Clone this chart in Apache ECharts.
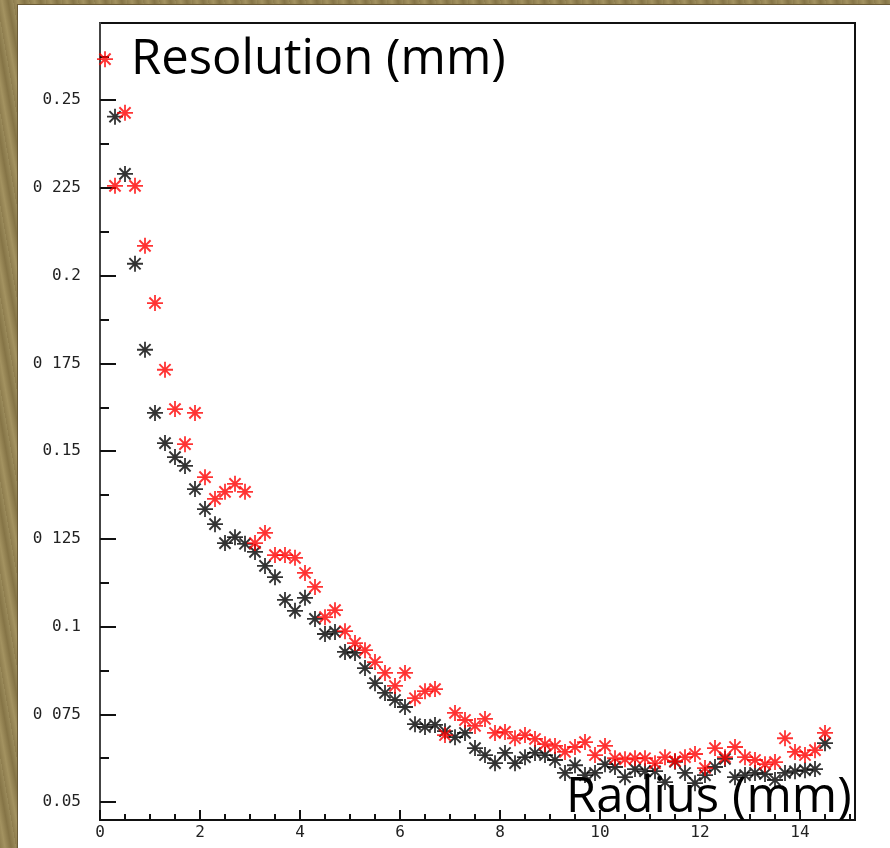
<!DOCTYPE html>
<html><head><meta charset="utf-8">
<script src="https://cdn.jsdelivr.net/npm/echarts@6/dist/echarts.min.js"></script>
<style>
html,body{margin:0;padding:0;width:890px;height:848px;overflow:hidden;}
body{background:repeating-linear-gradient(80deg,#8e7d4e 0px,#a39260 5px,#857446 11px,#9a8a5a 16px);}
#paper{position:absolute;left:17px;top:4px;right:0;bottom:0;background:#fff;border-left:1px solid #6a5a36;border-top:1px solid #6a5a36;}
#chart{position:absolute;left:0;top:0;width:890px;height:848px;}
</style></head><body><div id="paper"></div><div id="chart"></div>
<script>
const radius = [0.1,0.3,0.5,0.7,0.9,1.1,1.3,1.5,1.7,1.9,2.1,2.3,2.5,2.7,2.9,3.1,3.3,3.5,3.7,3.9,
  4.1,4.3,4.5,4.7,4.9,5.1,5.3,5.5,5.7,5.9,6.1,6.3,6.5,6.7,6.9,7.1,7.3,7.5,7.7,7.9,
  8.1,8.3,8.5,8.7,8.9,9.1,9.3,9.5,9.7,9.9,10.1,10.3,10.5,10.7,10.9,11.1,11.3,11.5,11.7,11.9,
  12.1,12.3,12.5,12.7,12.9,13.1,13.3,13.5,13.7,13.9,14.1,14.3,14.5];
const resBlack = [null,0.2453,0.2290,0.2034,0.1789,0.1609,0.1523,0.1483,0.1458,0.1392,0.1335,0.1292,0.1238,0.1255,0.1236,0.1213,0.1173,0.1141,0.1076,0.1045,
  0.1082,0.1022,0.0979,0.0985,0.0928,0.0925,0.0882,0.0839,0.0811,0.0791,0.0771,0.0722,0.0714,0.0720,0.0702,0.0685,0.0697,0.0654,0.0634,0.0611,
  0.0640,0.0611,0.0628,0.0640,0.0634,0.0620,0.0583,0.0605,0.0577,0.0583,0.0608,0.0600,0.0571,0.0594,0.0588,0.0588,0.0557,0.0615,0.0583,0.0554,
  0.0577,0.0600,0.0623,0.0571,0.0577,0.0583,0.0580,0.0563,0.0583,0.0588,0.0591,0.0594,0.0668];
const resRed = [0.2617,0.2256,0.2464,0.2256,0.2085,0.1922,0.1732,0.1620,0.1520,0.1609,0.1426,0.1364,0.1384,0.1407,0.1384,0.1238,0.1267,0.1204,0.1204,0.1196,
  0.1153,0.1113,0.1027,0.1047,0.0987,0.0953,0.0933,0.0899,0.0868,0.0831,0.0868,0.0796,0.0816,0.0822,0.0691,0.0754,0.0734,0.0717,0.0737,0.0697,
  0.0700,0.0682,0.0691,0.0680,0.0665,0.0660,0.0643,0.0657,0.0671,0.0634,0.0660,0.0625,0.0622,0.0625,0.0625,0.0611,0.0628,0.0617,0.0628,0.0637,
  0.0597,0.0654,0.0628,0.0657,0.0628,0.0620,0.0608,0.0614,0.0682,0.0643,0.0634,0.0648,0.0697];
const xMajorTicks = [0,2,4,6,8,10,12,14];
const xMajorLabels = ['0','2','4','6','8','10','12','14'];
const xMinorTicks = [0.5,1,1.5,2.5,3,3.5,4.5,5,5.5,6.5,7,7.5,8.5,9,9.5,10.5,11,11.5,12.5,13,13.5,14.5,15];
const yMajorTicks = [0.05,0.075,0.1,0.125,0.15,0.175,0.2,0.225,0.25];
const yMajorLabels = ['0.05','0 075','0.1','0 125','0.15','0 175','0.2','0 225','0.25'];
const yMinorTicks = [0.0625,0.0875,0.1125,0.1375,0.1625,0.1875,0.2125,0.2375,0.2625];
const yTitle = 'Resolution (mm)';
const xTitle = 'Radius (mm)';

const X_MIN = 0, X_MAX = 15.1, Y_MIN = 0.0449, Y_MAX = 0.272;
const STAR = 'path://M0,7.1L16,7.1L16,8.9L0,8.9Z M7.1,0L8.9,0L8.9,16L7.1,16Z M1.7,3.1L3.1,1.7L14.3,12.9L12.9,14.3Z M12.9,1.7L14.3,3.1L3.1,14.3L1.7,12.9Z M5.8,5.8L10.2,5.8L10.2,10.2L5.8,10.2Z';

function lookup(vals, labels, v){
  for (let i=0;i<vals.length;i++){ if (Math.abs(vals[i]-v) < 1e-9) return labels[i]; }
  return '';
}
const labelFont = {fontFamily:'DejaVu Sans Mono', fontSize:16, color:'#222'};
const titleFont = 'normal 49px "Open Sans"';

const chart = echarts.init(document.getElementById('chart'), null, {renderer:'canvas'});
chart.setOption({
  animation:false,
  grid:{left:100, top:23, right:35, bottom:28, show:true, borderColor:'#111', borderWidth:2, backgroundColor:'transparent', outerBoundsMode:'none'},
  xAxis:[
    {type:'value', position:'bottom', min:X_MIN, max:X_MAX, splitLine:{show:false},
     axisLine:{show:true, lineStyle:{color:'#111', width:2}},
     axisTick:{show:true, inside:true, length:10, customValues:xMajorTicks, lineStyle:{color:'#111', width:2}},
     axisLabel:Object.assign({show:true, margin:5, customValues:xMajorTicks, formatter:v=>lookup(xMajorTicks,xMajorLabels,v)}, labelFont)},
    {type:'value', position:'bottom', min:X_MIN, max:X_MAX, splitLine:{show:false},
     axisLine:{show:false},
     axisTick:{show:true, inside:true, length:6, customValues:xMinorTicks, lineStyle:{color:'#111', width:2}},
     axisLabel:{show:false}}
  ],
  yAxis:[
    {type:'value', position:'left', min:Y_MIN, max:Y_MAX, splitLine:{show:false},
     axisLine:{show:true, lineStyle:{color:'#444', width:2}},
     axisTick:{show:true, inside:true, length:16, customValues:yMajorTicks, lineStyle:{color:'#111', width:2}},
     axisLabel:Object.assign({show:true, margin:19, customValues:yMajorTicks, formatter:v=>lookup(yMajorTicks,yMajorLabels,v)}, labelFont)},
    {type:'value', position:'left', min:Y_MIN, max:Y_MAX, splitLine:{show:false},
     axisLine:{show:false},
     axisTick:{show:true, inside:true, length:9, customValues:yMinorTicks, lineStyle:{color:'#111', width:2}},
     axisLabel:{show:false}}
  ],
  series:[
    {type:'scatter', name:'black', xAxisIndex:0, yAxisIndex:0, symbol:STAR, symbolSize:16,
     itemStyle:{color:'#000'},
     data:radius.map((x,i)=>[x,resBlack[i]]).filter(d=>d[1]!==null), z:2},
    {type:'scatter', name:'red', xAxisIndex:0, yAxisIndex:0, symbol:STAR, symbolSize:16,
     itemStyle:{color:'#f00'},
     data:radius.map((x,i)=>[x,resRed[i]]).filter(d=>d[1]!==null), z:3}
  ],
  graphic:[
    {type:'text', x:131, y:60, z:10, style:{text:yTitle, font:titleFont, fill:'#000', verticalAlign:'middle', align:'left'}},
    {type:'text', x:566, y:798, z:10, style:{text:xTitle, font:titleFont, fill:'#000', verticalAlign:'middle', align:'left'}}
  ]
});
</script></body></html>
